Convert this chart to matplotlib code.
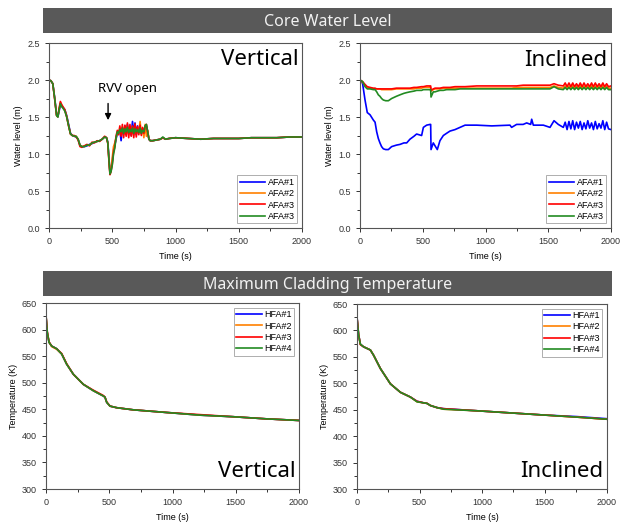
import matplotlib.pyplot as plt
from matplotlib.ticker import AutoMinorLocator

# ---- core water level, vertical ----
t_wl_v = [0, 15, 30, 45, 60, 70, 80, 90, 100, 110, 125, 140, 155, 170, 185, 200,
          215, 230, 245, 260, 280, 300, 320, 340, 360, 380, 400, 420, 440, 455,
          465, 475, 482, 490, 500, 510, 520, 530, 540, 550, 560, 570, 580, 590,
          600, 610, 620, 630, 640, 650, 660, 670, 680, 690, 700, 710, 720, 730,
          740, 750, 760, 770, 780, 790, 800, 820, 850, 880, 900, 920, 950, 1000,
          1100, 1200, 1300, 1400, 1500, 1600, 1700, 1800, 1900, 2000]
afa1_v = [2.00, 1.99, 1.95, 1.76, 1.53, 1.50, 1.58, 1.66, 1.65, 1.63, 1.60, 1.52, 1.40, 1.28,
          1.25, 1.24, 1.23, 1.20, 1.12, 1.10, 1.10, 1.11, 1.13, 1.14, 1.16, 1.17, 1.18, 1.20,
          1.23, 1.22, 1.16, 0.92, 0.75, 0.78, 0.90, 1.05, 1.12, 1.20, 1.28, 1.30, 1.32, 1.18,
          1.35, 1.27, 1.38, 1.26, 1.40, 1.28, 1.36, 1.25, 1.44, 1.28, 1.42, 1.26, 1.38, 1.30,
          1.36, 1.28, 1.33, 1.30, 1.36, 1.38, 1.30, 1.20, 1.18, 1.18, 1.19, 1.20, 1.22, 1.20,
          1.21, 1.22, 1.21, 1.20, 1.21, 1.21, 1.21, 1.22, 1.22, 1.22, 1.23, 1.23]
afa2_v = [2.00, 1.99, 1.95, 1.75, 1.52, 1.50, 1.60, 1.69, 1.66, 1.63, 1.59, 1.51, 1.38, 1.27,
          1.25, 1.24, 1.24, 1.20, 1.12, 1.10, 1.11, 1.12, 1.12, 1.15, 1.16, 1.17, 1.18, 1.20,
          1.23, 1.22, 1.15, 0.88, 0.74, 0.80, 0.95, 1.10, 1.15, 1.22, 1.28, 1.27, 1.34, 1.28,
          1.36, 1.27, 1.35, 1.29, 1.38, 1.26, 1.34, 1.28, 1.37, 1.27, 1.35, 1.29, 1.34, 1.30,
          1.44, 1.27, 1.35, 1.22, 1.40, 1.24, 1.32, 1.20, 1.18, 1.18, 1.19, 1.20, 1.22, 1.20,
          1.21, 1.22, 1.21, 1.20, 1.21, 1.21, 1.21, 1.22, 1.22, 1.22, 1.23, 1.23]
afa3_v = [2.00, 1.99, 1.95, 1.74, 1.52, 1.51, 1.62, 1.71, 1.67, 1.64, 1.60, 1.50, 1.38, 1.27,
          1.25, 1.25, 1.23, 1.19, 1.10, 1.09, 1.11, 1.13, 1.11, 1.16, 1.15, 1.18, 1.17, 1.20,
          1.24, 1.22, 1.14, 0.88, 0.72, 0.76, 0.86, 1.02, 1.10, 1.24, 1.32, 1.26, 1.38, 1.24,
          1.40, 1.22, 1.39, 1.24, 1.42, 1.22, 1.40, 1.24, 1.38, 1.22, 1.41, 1.23, 1.37, 1.26,
          1.39, 1.25, 1.36, 1.28, 1.38, 1.40, 1.30, 1.20, 1.18, 1.18, 1.19, 1.20, 1.22, 1.20,
          1.21, 1.22, 1.21, 1.20, 1.21, 1.21, 1.21, 1.22, 1.22, 1.22, 1.23, 1.23]
afa4_v = [2.00, 1.99, 1.95, 1.75, 1.52, 1.50, 1.60, 1.68, 1.64, 1.62, 1.58, 1.50, 1.38, 1.27,
          1.25, 1.24, 1.24, 1.20, 1.12, 1.10, 1.10, 1.12, 1.12, 1.15, 1.16, 1.17, 1.18, 1.20,
          1.23, 1.22, 1.15, 0.90, 0.73, 0.76, 0.85, 1.00, 1.08, 1.22, 1.30, 1.28, 1.33, 1.30,
          1.35, 1.28, 1.34, 1.30, 1.36, 1.29, 1.33, 1.30, 1.35, 1.28, 1.34, 1.30, 1.33, 1.29,
          1.35, 1.28, 1.32, 1.30, 1.38, 1.40, 1.30, 1.20, 1.18, 1.18, 1.19, 1.20, 1.23, 1.20,
          1.21, 1.22, 1.21, 1.20, 1.21, 1.21, 1.21, 1.22, 1.22, 1.22, 1.23, 1.23]

# ---- core water level, inclined ----
t_wl_i = [0, 20, 40, 58, 80, 106, 120, 133, 146, 159, 172, 186, 205, 226, 252, 290, 319, 350,
          372, 398, 430, 451, 491, 505, 531, 558, 563, 566, 584, 598, 616, 637, 664, 690, 717,
          757, 797, 837, 930, 1050, 1195, 1208, 1248, 1300, 1328, 1360, 1368, 1381, 1461,
          1514, 1546, 1580, 1620, 1635, 1650, 1665, 1680, 1695, 1710, 1725, 1740, 1755, 1770,
          1785, 1800, 1815, 1830, 1845, 1860, 1875, 1890, 1905, 1920, 1935, 1950, 1965, 1980,
          2000]
afa1_i = [1.98, 1.96, 1.73, 1.56, 1.53, 1.46, 1.43, 1.30, 1.21, 1.15, 1.10, 1.07, 1.06, 1.06,
          1.10, 1.12, 1.13, 1.15, 1.15, 1.20, 1.24, 1.27, 1.25, 1.36, 1.39, 1.40, 1.40, 1.06,
          1.15, 1.11, 1.06, 1.18, 1.25, 1.28, 1.31, 1.33, 1.36, 1.39, 1.39, 1.38, 1.39, 1.36,
          1.40, 1.40, 1.42, 1.40, 1.47, 1.39, 1.39, 1.36, 1.45, 1.40, 1.36, 1.43, 1.33, 1.44,
          1.34, 1.45, 1.33, 1.43, 1.35, 1.44, 1.33, 1.42, 1.34, 1.45, 1.35, 1.42, 1.33, 1.44,
          1.34, 1.41, 1.35, 1.45, 1.33, 1.43, 1.34, 1.33]
afa2_i = [1.99, 1.97, 1.93, 1.90, 1.89, 1.88, 1.88, 1.88, 1.88, 1.88, 1.87, 1.87, 1.87, 1.87,
          1.87, 1.88, 1.88, 1.88, 1.88, 1.88, 1.88, 1.89, 1.89, 1.90, 1.90, 1.90, 1.90, 1.85,
          1.87, 1.88, 1.88, 1.88, 1.89, 1.89, 1.89, 1.89, 1.89, 1.89, 1.89, 1.89, 1.89, 1.89,
          1.90, 1.90, 1.90, 1.90, 1.90, 1.90, 1.90, 1.90, 1.92, 1.90, 1.89, 1.92, 1.88, 1.92,
          1.88, 1.93, 1.88, 1.92, 1.88, 1.93, 1.88, 1.92, 1.89, 1.92, 1.88, 1.93, 1.88, 1.92,
          1.89, 1.92, 1.88, 1.93, 1.88, 1.92, 1.89, 1.89]
afa3_i = [2.00, 1.98, 1.94, 1.91, 1.90, 1.89, 1.89, 1.88, 1.88, 1.88, 1.88, 1.88, 1.88, 1.88,
          1.88, 1.89, 1.89, 1.89, 1.89, 1.89, 1.90, 1.90, 1.91, 1.91, 1.92, 1.92, 1.92, 1.86,
          1.88, 1.89, 1.89, 1.89, 1.90, 1.90, 1.90, 1.91, 1.91, 1.91, 1.92, 1.92, 1.92, 1.92,
          1.92, 1.93, 1.93, 1.93, 1.93, 1.93, 1.93, 1.93, 1.95, 1.93, 1.92, 1.96, 1.91, 1.96,
          1.91, 1.96, 1.91, 1.95, 1.91, 1.96, 1.91, 1.96, 1.91, 1.95, 1.91, 1.96, 1.91, 1.96,
          1.91, 1.95, 1.91, 1.96, 1.91, 1.95, 1.91, 1.92]
afa4_i = [2.00, 1.98, 1.91, 1.88, 1.88, 1.87, 1.87, 1.84, 1.80, 1.78, 1.75, 1.73, 1.72, 1.72,
          1.75, 1.78, 1.80, 1.82, 1.83, 1.84, 1.85, 1.86, 1.86, 1.87, 1.87, 1.87, 1.87, 1.77,
          1.84, 1.84, 1.85, 1.86, 1.86, 1.87, 1.87, 1.87, 1.88, 1.88, 1.88, 1.88, 1.88, 1.88,
          1.88, 1.88, 1.88, 1.88, 1.88, 1.88, 1.88, 1.88, 1.91, 1.88, 1.87, 1.90, 1.87, 1.90,
          1.87, 1.90, 1.87, 1.90, 1.87, 1.90, 1.87, 1.90, 1.87, 1.90, 1.87, 1.90, 1.87, 1.90,
          1.87, 1.90, 1.87, 1.90, 1.87, 1.90, 1.87, 1.87]

# ---- maximum cladding temperature ----
t_ct_v = [0, 10, 24, 45, 84, 124, 163, 216, 295, 374, 453, 466, 480, 506, 559, 690, 954,
          1217, 1481, 1744, 2000]
hfa1_v = [626, 595, 576, 569, 564, 554, 535, 516, 497, 485, 475, 473, 463, 456, 453, 449,
          444, 439, 436, 432, 429]
hfa2_v = [627, 596, 576, 568, 563, 554, 535, 516, 497, 485, 475, 473, 463, 456, 453, 449,
          444, 439, 436, 432, 429]
hfa3_v = [626, 595, 577, 569, 564, 555, 536, 516, 497, 486, 476, 473, 464, 456, 453, 449,
          444, 440, 436, 432, 429]
hfa4_v = [627, 595, 576, 569, 564, 554, 535, 516, 497, 485, 475, 473, 463, 456, 453, 449,
          444, 439, 436, 432, 429]

t_ct_i = [0, 13, 27, 53, 107, 133, 187, 267, 347, 427, 480, 533, 560, 587, 640, 693, 960,
          1227, 1493, 1760, 2000]
hfa1_i = [625, 592, 574, 569, 563, 553, 528, 499, 483, 474, 466, 463, 462, 458, 454, 452,
          448, 444, 440, 437, 433]
hfa2_i = [624, 591, 574, 569, 563, 553, 528, 499, 483, 474, 465, 463, 462, 458, 454, 451,
          448, 444, 440, 436, 432]
hfa3_i = [625, 592, 573, 569, 563, 553, 528, 499, 483, 474, 466, 463, 462, 458, 454, 452,
          448, 444, 440, 436, 432]
hfa4_i = [625, 591, 574, 569, 563, 553, 528, 499, 483, 474, 465, 463, 462, 458, 454, 451,
          448, 444, 440, 436, 432]

colors = ["#0000FF", "#FF8000", "#FF0000", "#228B22"]
afa_labels = ["AFA#1", "AFA#2", "AFA#3", "AFA#3"]
hfa_labels = ["HFA#1", "HFA#2", "HFA#3", "HFA#4"]

plt.rcParams["font.family"] = ["Liberation Sans", "DejaVu Sans"]
BIG = ["Noto Sans", "DejaVu Sans"]


def style_axes(ax, ylim, yticks, ylabel):
    ax.set_xlim(0, 2000)
    ax.set_ylim(*ylim)
    ax.set_xticks([0, 500, 1000, 1500, 2000])
    ax.set_yticks(yticks)
    ax.xaxis.set_minor_locator(AutoMinorLocator(2))
    ax.yaxis.set_minor_locator(AutoMinorLocator(2))
    ax.tick_params(which="both", direction="out", labelsize=6.5, colors="#333333",
                   top=False, right=False, width=0.7)
    ax.tick_params(which="major", length=3)
    ax.tick_params(which="minor", length=2)
    for s in ax.spines.values():
        s.set_color("#555555")
        s.set_linewidth(0.8)
    ax.set_xlabel("Time (s)", fontsize=6.5, labelpad=4)
    ax.set_ylabel(ylabel, fontsize=6.5, labelpad=3)


def add_legend(ax, loc):
    leg = ax.legend(loc=loc, fontsize=6.5, frameon=True, fancybox=False, handlelength=2.8,
                    handletextpad=0.3, borderpad=0.3, labelspacing=0.25, borderaxespad=0.5)
    leg.get_frame().set_edgecolor("#999999")
    leg.get_frame().set_linewidth(0.7)


fig = plt.figure(figsize=(6.25, 5.22), dpi=100)

# header bars
for yb, title in [(0.9368, "Core Water Level"), (0.433, "Maximum Cladding Temperature")]:
    bar = fig.add_axes([0.0688, yb, 0.9104, 0.0479])
    bar.set_facecolor("#595959")
    bar.set_xticks([])
    bar.set_yticks([])
    for s in bar.spines.values():
        s.set_visible(False)
    bar.text(0.5, 0.45, title, ha="center", va="center", color="#f2f2f2",
             fontsize=11.5, family=BIG, transform=bar.transAxes)

ax1 = fig.add_axes([0.0784, 0.5632, 0.4048, 0.3544])
ax2 = fig.add_axes([0.576, 0.5632, 0.4016, 0.3544])
ax3 = fig.add_axes([0.0736, 0.0632, 0.4048, 0.3563])
ax4 = fig.add_axes([0.5712, 0.0632, 0.4, 0.3544])

for ys, c, lab in zip([afa1_v, afa2_v, afa3_v, afa4_v], colors, afa_labels):
    ax1.plot(t_wl_v, ys, color=c, lw=1.2, label=lab)
for ys, c, lab in zip([afa1_i, afa2_i, afa3_i, afa4_i], colors, afa_labels):
    ax2.plot(t_wl_i, ys, color=c, lw=1.2, label=lab)
for ys, c, lab in zip([hfa1_v, hfa2_v, hfa3_v, hfa4_v], colors, hfa_labels):
    ax3.plot(t_ct_v, ys, color=c, lw=1.2, label=lab)
for ys, c, lab in zip([hfa1_i, hfa2_i, hfa3_i, hfa4_i], colors, hfa_labels):
    ax4.plot(t_ct_i, ys, color=c, lw=1.2, label=lab)

wl_ticks = [0.0, 0.5, 1.0, 1.5, 2.0, 2.5]
ct_ticks = [300, 350, 400, 450, 500, 550, 600, 650]
style_axes(ax1, (0, 2.5), wl_ticks, "Water level (m)")
style_axes(ax2, (0, 2.5), wl_ticks, "Water level (m)")
style_axes(ax3, (300, 650), ct_ticks, "Temperature (K)")
style_axes(ax4, (300, 650), ct_ticks, "Temperature (K)")
for ax in (ax1, ax2):
    ax.yaxis.set_major_formatter(plt.FormatStrFormatter("%.1f"))

add_legend(ax1, "lower right")
add_legend(ax2, "lower right")
add_legend(ax3, "upper right")
add_legend(ax4, "upper right")

ax1.text(0.985, 0.97, "Vertical", ha="right", va="top", fontsize=16, family=BIG,
         transform=ax1.transAxes)
ax2.text(0.985, 0.96, "Inclined", ha="right", va="top", fontsize=16, family=BIG,
         transform=ax2.transAxes)
ax3.text(0.985, 0.04, "Vertical", ha="right", va="bottom", fontsize=16, family=BIG,
         transform=ax3.transAxes)
ax4.text(0.985, 0.04, "Inclined", ha="right", va="bottom", fontsize=16, family=BIG,
         transform=ax4.transAxes)

ax1.annotate("", xy=(467, 1.42), xytext=(467, 1.72),
             arrowprops=dict(arrowstyle="-|>", color="black", lw=1.0, mutation_scale=9))
ax1.text(620, 1.80, "RVV open", ha="center", va="bottom", fontsize=9.5, family=BIG)

fig.savefig("out.png", dpi=100)
